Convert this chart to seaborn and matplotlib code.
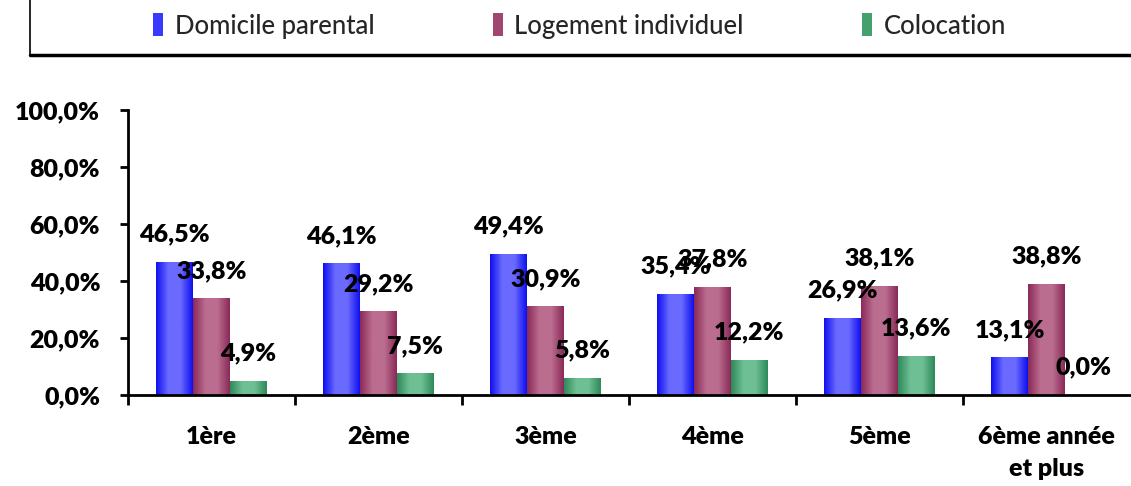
import numpy as np
import pandas as pd
import seaborn as sns
import matplotlib.pyplot as plt
from matplotlib.patches import Patch
from matplotlib.lines import Line2D
from matplotlib.colors import LinearSegmentedColormap

# Données
annees = ["1ère", "2ème", "3ème", "4ème", "5ème", "6ème année\net plus"]
domicile_parental = [46.5, 46.1, 49.4, 35.4, 26.9, 13.1]
logement_individuel = [33.8, 29.2, 30.9, 37.8, 38.1, 38.8]
colocation = [4.9, 7.5, 5.8, 12.2, 13.6, 0.0]
series = ["Domicile parental", "Logement individuel", "Colocation"]

couleurs = ["#3a3aff", "#a04670", "#45a070"]
# bord sombre / centre clair pour le dégradé façon Excel
degrades = [("#1010f0", "#6a6aff"), ("#8a2a58", "#bb6d8f"), ("#2e8a5a", "#6fbf94")]

df = pd.DataFrame({
    "annee": annees * 3,
    "serie": np.repeat(series, len(annees)),
    "valeur": domicile_parental + logement_individuel + colocation,
})

sns.set_theme(style="white")
plt.rcParams['font.family'] = ['Lato', 'DejaVu Sans']
POIDS = "heavy"

fig = plt.figure(figsize=(11.31, 4.86), dpi=100)
ax = fig.add_axes([128 / 1131, 1 - 395 / 486, 1002 / 1131, 285 / 486])

sns.barplot(data=df, x="annee", y="valeur", hue="serie", hue_order=series,
            palette=couleurs, width=0.66, saturation=1, ax=ax, legend=False,
            edgecolor="none")

# dégradé horizontal sur chaque barre
for cont, (sombre, clair) in zip(ax.containers, degrades):
    cmap = LinearSegmentedColormap.from_list("g", [sombre, clair, clair, sombre])
    grad = np.linspace(0, 1, 64).reshape(1, -1)
    for p in cont:
        x0, w, h = p.get_x(), p.get_width(), p.get_height()
        if h <= 0:
            continue
        p.set_alpha(0)
        ax.imshow(grad, cmap=cmap, aspect="auto", extent=(x0, x0 + w, 0, h),
                  zorder=2, interpolation="bilinear")

# étiquettes de données
for cont, vals in zip(ax.containers, [domicile_parental, logement_individuel, colocation]):
    for p, v in zip(cont, vals):
        ax.annotate(f"{v:.1f}".replace(".", ",") + "%",
                    (p.get_x() + p.get_width() / 2, v), xytext=(0, 20),
                    textcoords="offset points", ha="center", va="center",
                    fontsize=18, fontweight=POIDS, color="black", zorder=5)

ax.set_xlim(-0.5, 5.5)
ax.set_ylim(0, 100)
ax.set_yticks(np.arange(0, 101, 20))
ax.set_yticklabels([f"{t},0%" for t in range(0, 101, 20)], fontsize=18, fontweight=POIDS)
ax.set_xticks(range(len(annees)))
ax.set_xticklabels(annees, fontsize=18, fontweight=POIDS, linespacing=1.6, va="top")
ax.set_xticks(np.arange(-0.5, 5.0, 1.0), minor=True)
ax.tick_params(axis="x", which="major", length=0, pad=22, colors="black")
ax.tick_params(axis="x", which="minor", length=7, width=2, direction="out", bottom=True, color="black")
ax.tick_params(axis="y", length=6, width=2, direction="out", left=True, pad=14, colors="black")
ax.set_xlabel("")
ax.set_ylabel("")
sns.despine(ax=ax)
for s in ["left", "bottom"]:
    ax.spines[s].set_linewidth(2)
    ax.spines[s].set_color("black")

# cadre de la légende (coupé par le bord de l'image)
fig.add_artist(Line2D([30 / 1131, 30 / 1131], [1.0, 1 - 55 / 486], color="black", lw=1.2))
fig.add_artist(Line2D([30 / 1131, 1.0], [1 - 55 / 486, 1 - 55 / 486], color="black", lw=2.5))

poignees = [Patch(facecolor=c, edgecolor="none") for c in couleurs]
fig.legend(poignees, series, loc="center left", bbox_to_anchor=(153 / 1131, 1 - 26 / 486),
           ncol=3, frameon=False, handlelength=0.4, handleheight=1.0,
           handletextpad=0.45, columnspacing=4.6, borderaxespad=0, borderpad=0,
           prop={"size": 18.5, "weight": "medium"})

plt.savefig("out.png", dpi=100)
